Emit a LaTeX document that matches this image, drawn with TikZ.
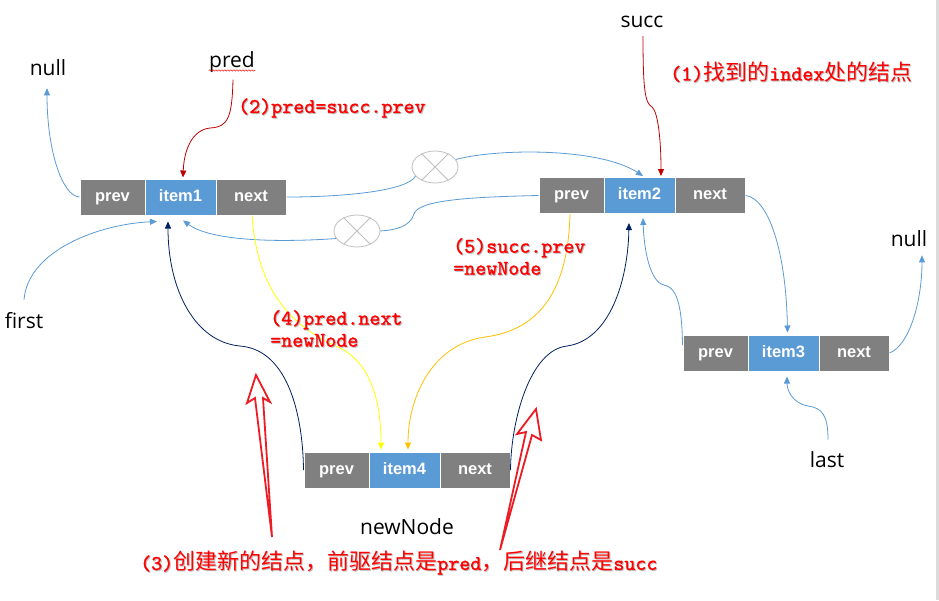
\documentclass[tikz,border=0pt]{standalone}
\usepackage{fontspec}
\setmainfont{Open Sans}
\newfontfamily\boxfont{Liberation Sans}
\newfontfamily\cjkfont{Noto Sans CJK SC}
\newfontfamily\redmono[FakeBold=1.2]{lmmono10-regular.otf}
\usetikzlibrary{arrows.meta,calc,shapes.geometric,decorations.pathmorphing}

\definecolor{cellgray}{RGB}{128,128,128}
\definecolor{cellblue}{RGB}{91,155,213}
\definecolor{linkblue}{RGB}{91,155,213}
\definecolor{navyline}{RGB}{0,32,96}
\definecolor{darkredline}{RGB}{192,0,0}
\definecolor{lineyellow}{RGB}{255,255,0}
\definecolor{lineorange}{RGB}{255,192,0}
\definecolor{xgray}{RGB}{191,191,191}
\definecolor{blockred}{RGB}{237,28,36}
\definecolor{labred}{RGB}{255,0,0}

\newcommand\rcjk[1]{{\cjkfont\mdseries\fontsize{22}{22}\selectfont #1}}
\newcommand\listrow[4]{%
  \node[cellg,minimum width=65pt] (#1p) at (#2+32.5,#3) {prev};
  \node[cellb,minimum width=71pt] (#1i) at (#2+100.5,#3) {#4};
  \node[cellg,minimum width=70pt] (#1n) at (#2+171,#3) {next};
}
\newcommand\redlab[4]{%
  \node[redsh] at (#2+1,#3+1) {#4};
  \node[redtxt] (#1) at (#2,#3) {#4};
}

\begin{document}
\begin{tikzpicture}[x=1pt,y=-1pt,
  cell/.style={rectangle, draw=white, line width=1pt, minimum height=36pt, inner sep=0pt,
    text height=12pt, text depth=3.5pt,
    text=white, font=\boxfont\bfseries\fontsize{16.5}{18}\selectfont},
  cellg/.style={cell, fill=cellgray},
  cellb/.style={cell, fill=cellblue},
  lab/.style={inner sep=0pt, font=\fontsize{21}{24}\selectfont, text=black},
  link/.style={draw=linkblue, line width=0.8pt},
  tip/.style={-{Triangle[length=7pt,width=6pt]}},
  redtxt/.style={inner sep=0pt, anchor=west, align=left, text=labred,
    font=\redmono\fontsize{21}{22}\selectfont},
  redsh/.style={redtxt, text=black!25},
  xcirc/.style={ellipse, draw=xgray, line width=0.8pt, minimum width=46pt,
    minimum height=32pt, inner sep=0pt},
  blockarrow/.style={draw=blockred, line width=1.8pt, line join=miter}
]
\fill[white] (0,0) rectangle (939,600);
\fill[black!14] (936,0) rectangle (939,600);
\useasboundingbox (0,0) rectangle (939,600);

% list nodes
\listrow{a1}{80}{197}{item1}
\listrow{a2}{539}{195.5}{item2}
\listrow{a3}{683}{353}{item3}
\listrow{a4}{304}{470}{item4}

% black labels
\node[lab] (null1) at (48,68) {null};
\node[lab] (pred) at (232,62) {pred};
\node[lab] (succ) at (642,22) {succ};
\node[lab] (null2) at (909,239) {null};
\node[lab] (first) at (24,321) {first};
\node[lab] (last) at (827,460) {last};
\node[lab] (newnode) at (407,527) {newNode};

\draw[labred, line width=0.5pt, decorate, decoration={snake,amplitude=0.7pt,segment length=3pt}]
  ($(pred.base west)+(0,3)$) -- ($(pred.base east)+(0,3)$);

% crossed circles
\node[xcirc] (c1) at (435,167) {};
\node[xcirc] (c2) at (357,231) {};
\draw[xgray, line width=0.8pt] (c1.135) -- (c1.-45) (c1.45) -- (c1.-135);
\draw[xgray, line width=0.8pt] (c2.135) -- (c2.-45) (c2.45) -- (c2.-135);

% blue links
\draw[link,tip] (a1p.west) .. controls (62,196) and (47,150) .. ($(null1.south)+(-1,12)$);
\draw[link] (a1n.east) .. controls (350,197) and (408,190) .. (c1.205);
\draw[link,tip] (c1.20) .. controls (500,148) and (600,148) .. ($(a2i.north)+(3.5,-1)$);
\draw[link] (a2p.west) .. controls (470,197) and (418,200) .. (414,214)
  .. controls (410,227) and (395,230) .. (c2.east);
\draw[link,tip] (c2.200) .. controls (270,243) and (210,240) .. ($(a1i.south)+(2.5,5)$);
\draw[link,tip] ($(first.north)+(0,-13)$) .. controls (28,250) and (100,224) .. ($(a1i.south)+(-23.5,6)$);
\draw[link,tip] (a2n.east) .. controls (768,198) and (786,250) .. ($(a3i.north)+(4,-2)$);
\draw[link,tip] ($(a3p.west)+(0,-8)$) .. controls (682,300) and (675,287) .. (664,285)
  .. controls (650,282) and (644,250) .. ($(a2i.south)+(3.5,4)$);
\draw[link,tip] (a3n.east) .. controls (910,345) and (922,300) .. ($(null2.south)+(13,8)$);
\draw[link,tip] ($(last.north)+(1,-12)$) .. controls (828,415) and (822,408) .. (808,406)
  .. controls (792,403) and (787,390) .. ($(a3i.south)+(3.5,5)$);

% red pointers
\draw[darkredline,line width=0.8pt,tip] ($(pred.south)+(1,7)$) .. controls (232,118) and (228,127) .. (210,128)
  .. controls (192,130) and (184,150) .. ($(a1i.north)+(2.5,-1)$);
\draw[darkredline,line width=0.8pt,tip] ($(succ.south)+(1,8)$) .. controls (643,90) and (645,103) .. (652,107)
  .. controls (658,112) and (661,140) .. ($(a2i.north)+(21.5,-1)$);

% navy links
\draw[navyline,line width=0.8pt,tip] (a4p.west) .. controls (303,420) and (290,350) .. (240,346)
  .. controls (195,342) and (168,290) .. ($(a1i.south)+(-12.5,6)$);
\draw[navyline,line width=0.8pt,tip] (a4n.east) .. controls (511,420) and (530,350) .. (567,346)
  .. controls (610,340) and (628,280) .. ($(a2i.south)+(-10.5,9)$);

% yellow / orange links
\draw[lineyellow,line width=0.8pt,tip] ($(a1n.south)+(1,0)$) .. controls (258,300) and (300,330) .. (340,348)
  .. controls (370,363) and (381,400) .. ($(a4i.north)+(-23.5,-2)$);
\draw[lineorange,line width=0.8pt,tip] ($(a2p.south)+(-1.5,0)$) .. controls (568,290) and (540,330) .. (485,337)
  .. controls (430,345) and (408,400) .. ($(a4i.north)+(3.5,-2)$);

% red block arrows
\draw[blockarrow] (272,537) -- (255,398) -- (247,403) -- (256,375) -- (270,402) -- (263,398) -- cycle;
\draw[blockarrow] (500,550) -- (526,432) -- (517,434) -- (536,409) -- (541,440) -- (532,435) -- cycle;

% red labels
\redlab{s1}{670}{72}{(1)\rcjk{找到的}index\rcjk{处的结点}}
\redlab{s2}{238}{108}{(2)pred=succ.prev}
\redlab{s5}{453}{256.5}{(5)succ.prev\\=newNode}
\redlab{s4}{270}{328.5}{(4)pred.next\\=newNode}
\redlab{s3}{140}{563}{(3)\rcjk{创建新的结点，前驱结点是}pred\rcjk{，后继结点是}succ}
\end{tikzpicture}
\end{document}
